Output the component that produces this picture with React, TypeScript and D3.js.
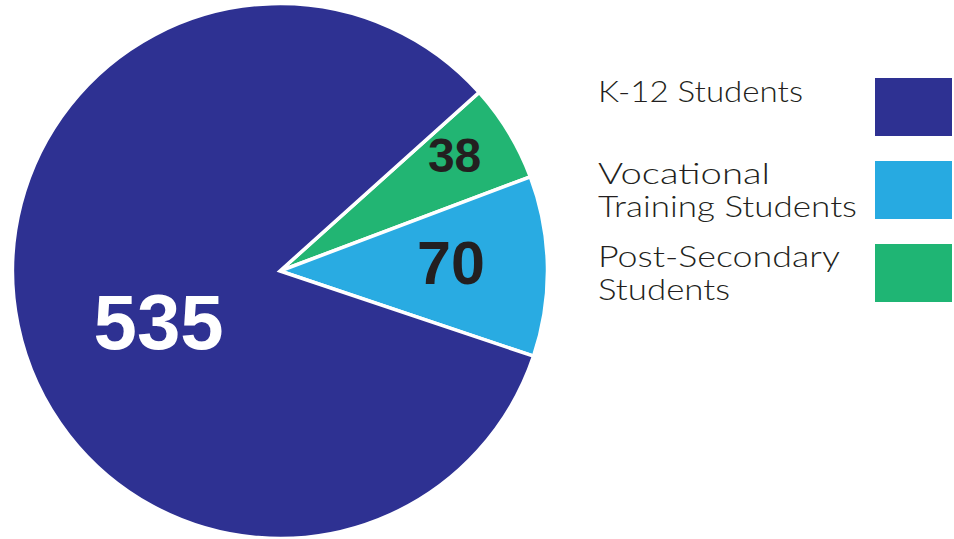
import React from "react";
import * as d3 from "d3";

const categories = ["Post-Secondary Students", "Vocational Training Students", "K-12 Students"];
const values = [38, 70, 535];
const sliceColors = ["#22B573", "#29ABE2", "#2E3192"];
const labelColors = ["#231F20", "#231F20", "#FFFFFF"];

const legendItems = ["K-12 Students", "Vocational Training Students", "Post-Secondary Students"];
const legendLines = [["K-12 Students"], ["Vocational", "Training Students"], ["Post-Secondary", "Students"]];
const legendColors = ["#2E3192", "#27AAE1", "#1FB574"];

const W = 954;
const H = 539;
const cx = 280;
const cy = 271;
const R = 267.5;
const startDeg = 48.1;

// label placement: [angle offset (deg), radius fraction, font size]
const labelStyle = [
  [-2.5, 0.785, 48],
  [-2, 0.64, 61],
  [-10.5, 0.49, 78],
];

const legendLineWidths = [[205], [172, 259], [242, 132]];

export default function App() {
  const start = (startDeg * Math.PI) / 180;
  const pie = d3
    .pie<number>()
    .sort(null)
    .value((d) => d)
    .startAngle(start)
    .endAngle(start + 2 * Math.PI);
  const arcs = pie(values);
  const arc = d3.arc<d3.PieArcDatum<number>>().innerRadius(0).outerRadius(R);

  const legendY = d3.scalePoint<number>().domain([0, 1, 2]).range([78, 244]);

  return (
    <svg width={W} height={H} style={{ position: "absolute", left: 0, top: 0, background: "#fff" }}>
      <g transform={`translate(${cx},${cy})`}>
        {arcs.map((a, i) => (
          <path key={categories[i]} d={arc(a) || ""} fill={sliceColors[i]} stroke="#fff" strokeWidth={3.5} strokeLinejoin="miter" />
        ))}
        {arcs.map((a, i) => {
          const [dA, rf, fs] = labelStyle[i];
          const ang = (a.startAngle + a.endAngle) / 2 + (dA * Math.PI) / 180;
          const rr = rf * R;
          const x = Math.sin(ang) * rr;
          const y = -Math.cos(ang) * rr;
          return (
            <text
              key={"l" + i}
              x={x}
              y={y}
              dy="0.36em"
              textAnchor="middle"
              fontFamily="'Liberation Sans', Arial, sans-serif"
              fontWeight="bold"
              fontSize={fs}
              fill={labelColors[i]}
            >
              {values[i]}
            </text>
          );
        })}
      </g>
      {legendItems.map((name, i) => {
        const y0 = legendY(i) as number;
        const lines = legendLines[i];
        return (
          <g key={name}>
            <rect x={875} y={y0} width={77} height={58} fill={legendColors[i]} />
            {lines.map((ln, j) => (
              <text
                key={ln}
                x={598}
                y={(i === 0 ? y0 + 24 : y0 + 22.5) + j * 33.5}
                fontFamily="Lato, 'Noto Sans', sans-serif"
                fontWeight={300}
                fontSize={29}
                fill="#231F20"
                textLength={legendLineWidths[i][j]}
                lengthAdjust="spacingAndGlyphs"
              >
                {ln}
              </text>
            ))}
          </g>
        );
      })}
    </svg>
  );
}
